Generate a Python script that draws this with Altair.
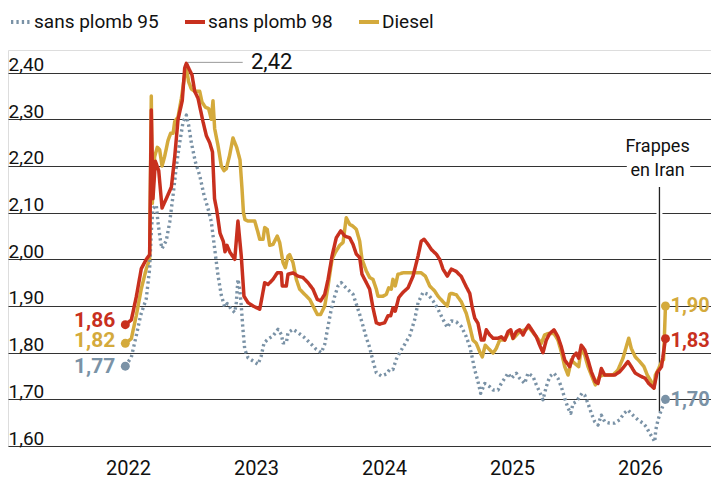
import altair as alt
import pandas as pd

SERIES = ["sans plomb 95", "sans plomb 98", "Diesel"]
COLORS = ["#7a92a6", "#c8301e", "#d4aa3c"]

YEAR_TICKS = [2022, 2023, 2024, 2025, 2026]
PRICE_TICKS = [1.6, 1.7, 1.8, 1.9, 2.0, 2.1, 2.2, 2.3, 2.4]

STRIKE_T = 2026.152
STRIKE_LABEL = ["Frappes", "en Iran"]

# (decimal year, EUR/litre)
sp95 = [(2021.979,1.771),(2022.026,1.79),(2022.065,1.837),(2022.099,1.88),(2022.143,1.916),(2022.169,1.98),
(2022.182,2.059),(2022.195,2.109),(2022.221,2.116),(2022.234,2.08),(2022.255,2.037),(2022.266,2.023),
(2022.299,2.04),(2022.326,2.08),(2022.352,2.137),(2022.378,2.20),(2022.404,2.25),(2022.430,2.294),
(2022.456,2.309),(2022.474,2.287),(2022.495,2.25),(2022.526,2.209),(2022.560,2.18),(2022.594,2.137),
(2022.625,2.109),(2022.651,2.08),(2022.677,2.023),(2022.703,1.966),(2022.729,1.923),(2022.755,1.898),
(2022.776,1.905),(2022.807,1.893),(2022.834,1.886),(2022.846,1.907),(2022.859,1.957),(2022.873,1.936),
(2022.885,1.90),(2022.898,1.85),(2022.912,1.807),(2022.938,1.789),(2022.977,1.782),(2023.016,1.775),
(2023.041,1.793),(2023.063,1.821),(2023.094,1.829),(2023.133,1.836),(2023.172,1.85),(2023.198,1.839),
(2023.211,1.821),(2023.237,1.821),(2023.250,1.843),(2023.289,1.85),(2023.328,1.843),(2023.380,1.832),
(2023.432,1.818),(2023.471,1.807),(2023.510,1.80),(2023.537,1.818),(2023.563,1.857),(2023.588,1.893),
(2023.615,1.921),(2023.641,1.943),(2023.666,1.95),(2023.688,1.943),(2023.758,1.925),(2023.784,1.904),
(2023.810,1.882),(2023.836,1.857),(2023.862,1.832),(2023.888,1.811),(2023.914,1.782),(2023.940,1.757),
(2023.979,1.75),(2024.018,1.754),(2024.045,1.764),(2024.070,1.764),(2024.096,1.786),(2024.123,1.80),
(2024.162,1.818),(2024.201,1.836),(2024.240,1.871),(2024.266,1.907),(2024.305,1.929),(2024.344,1.925),
(2024.383,1.911),(2024.422,1.893),(2024.461,1.871),(2024.495,1.854),(2024.526,1.868),(2024.565,1.866),
(2024.604,1.856),(2024.643,1.834),(2024.670,1.813),(2024.688,1.791),(2024.709,1.763),(2024.734,1.738),
(2024.755,1.713),(2024.787,1.734),(2024.826,1.727),(2024.852,1.72),(2024.891,1.72),(2024.916,1.734),
(2024.943,1.745),(2024.969,1.756),(2024.995,1.745),(2025.034,1.756),(2025.060,1.745),(2025.099,1.734),
(2025.125,1.756),(2025.164,1.749),(2025.190,1.731),(2025.216,1.716),(2025.242,1.699),(2025.268,1.727),
(2025.295,1.749),(2025.328,1.756),(2025.359,1.745),(2025.385,1.727),(2025.412,1.702),(2025.438,1.681),
(2025.459,1.67),(2025.477,1.691),(2025.502,1.695),(2025.529,1.706),(2025.547,1.713),(2025.568,1.709),
(2025.594,1.691),(2025.620,1.67),(2025.646,1.652),(2025.672,1.645),(2025.698,1.666),(2025.724,1.652),
(2025.763,1.649),(2025.802,1.649),(2025.841,1.656),(2025.875,1.67),(2025.906,1.677),(2025.945,1.666),
(2025.984,1.656),(2026.023,1.649),(2026.049,1.641),(2026.076,1.627),(2026.102,1.616),(2026.115,1.609),
(2026.123,1.634),(2026.141,1.656),(2026.166,1.677),(2026.199,1.70)]

sp98 = [(2021.979,1.86),(2022.026,1.87),(2022.065,1.92),(2022.104,1.98),(2022.143,2.00),(2022.169,2.01),
(2022.182,2.32),(2022.195,2.13),(2022.214,2.21),(2022.240,2.19),(2022.266,2.11),(2022.299,2.13),
(2022.339,2.155),(2022.365,2.22),(2022.391,2.30),(2022.424,2.34),(2022.443,2.41),(2022.456,2.42),
(2022.482,2.405),(2022.500,2.395),(2022.521,2.36),(2022.547,2.345),(2022.586,2.295),(2022.612,2.265),
(2022.638,2.25),(2022.660,2.23),(2022.676,2.13),(2022.693,2.106),(2022.719,2.056),(2022.745,2.038),
(2022.758,2.016),(2022.773,2.03),(2022.797,2.015),(2022.834,2.00),(2022.859,2.082),(2022.885,2.007),
(2022.906,1.921),(2022.938,1.907),(2022.977,1.90),(2023.029,1.893),(2023.041,1.91),(2023.068,1.95),
(2023.094,1.946),(2023.133,1.957),(2023.166,1.971),(2023.198,1.971),(2023.205,1.943),(2023.237,1.943),
(2023.250,1.968),(2023.289,1.971),(2023.328,1.964),(2023.367,1.961),(2023.406,1.95),(2023.445,1.936),
(2023.479,1.914),(2023.505,1.911),(2023.537,1.925),(2023.563,1.957),(2023.594,2.007),(2023.627,2.046),
(2023.662,2.061),(2023.693,2.05),(2023.732,2.046),(2023.758,2.032),(2023.784,2.011),(2023.810,2.004),
(2023.828,1.968),(2023.862,1.95),(2023.888,1.936),(2023.914,1.896),(2023.940,1.864),(2023.966,1.861),
(2024.005,1.864),(2024.031,1.879),(2024.052,1.879),(2024.070,1.896),(2024.088,1.889),(2024.115,1.918),
(2024.148,1.929),(2024.188,1.939),(2024.227,1.964),(2024.266,2.007),(2024.291,2.039),(2024.313,2.043),
(2024.344,2.032),(2024.370,2.021),(2024.409,2.011),(2024.435,2.00),(2024.461,1.979),(2024.495,1.964),
(2024.526,1.979),(2024.565,1.974),(2024.604,1.963),(2024.643,1.941),(2024.670,1.927),(2024.688,1.899),
(2024.709,1.874),(2024.734,1.863),(2024.760,1.827),(2024.781,1.827),(2024.799,1.849),(2024.826,1.838),
(2024.852,1.831),(2024.891,1.831),(2024.916,1.834),(2024.943,1.827),(2024.969,1.845),(2024.990,1.849),
(2025.008,1.831),(2025.034,1.845),(2025.060,1.849),(2025.086,1.838),(2025.112,1.852),(2025.130,1.859),
(2025.164,1.845),(2025.190,1.834),(2025.216,1.816),(2025.242,1.80),(2025.268,1.827),(2025.295,1.841),
(2025.328,1.849),(2025.359,1.834),(2025.385,1.813),(2025.412,1.784),(2025.451,1.77),(2025.477,1.791),
(2025.502,1.799),(2025.521,1.788),(2025.541,1.816),(2025.568,1.806),(2025.594,1.784),(2025.620,1.759),
(2025.651,1.738),(2025.672,1.734),(2025.698,1.766),(2025.724,1.752),(2025.763,1.752),(2025.802,1.752),
(2025.841,1.759),(2025.875,1.77),(2025.906,1.781),(2025.932,1.77),(2025.963,1.756),(2026.010,1.749),
(2026.041,1.745),(2026.068,1.734),(2026.109,1.724),(2026.133,1.757),(2026.168,1.77),(2026.199,1.83)]

diesel = [(2021.979,1.82),(2022.026,1.83),(2022.065,1.88),(2022.104,1.937),(2022.143,1.98),(2022.169,2.00),
(2022.182,2.35),(2022.190,2.12),(2022.208,2.22),(2022.229,2.24),(2022.247,2.235),(2022.266,2.20),
(2022.286,2.22),(2022.313,2.255),(2022.333,2.27),(2022.352,2.27),(2022.365,2.295),(2022.391,2.305),
(2022.417,2.345),(2022.443,2.395),(2022.456,2.41),(2022.474,2.38),(2022.495,2.365),(2022.521,2.36),
(2022.560,2.36),(2022.578,2.337),(2022.604,2.326),(2022.630,2.323),(2022.651,2.30),(2022.664,2.34),
(2022.677,2.28),(2022.703,2.244),(2022.729,2.20),(2022.750,2.19),(2022.768,2.194),(2022.794,2.223),
(2022.820,2.26),(2022.849,2.24),(2022.875,2.213),(2022.891,2.15),(2022.902,2.10),(2022.914,2.085),
(2022.938,2.082),(2022.990,2.082),(2023.016,2.057),(2023.029,2.043),(2023.055,2.043),(2023.068,2.068),
(2023.088,2.064),(2023.107,2.03),(2023.133,2.032),(2023.166,2.05),(2023.185,2.036),(2023.211,1.993),
(2023.229,1.982),(2023.250,2.007),(2023.263,2.01),(2023.289,1.993),(2023.315,1.957),(2023.341,1.936),
(2023.380,1.925),(2023.420,1.914),(2023.453,1.896),(2023.479,1.882),(2023.505,1.882),(2023.537,1.90),
(2023.563,1.943),(2023.594,2.00),(2023.620,2.015),(2023.654,2.03),(2023.680,2.036),(2023.705,2.089),
(2023.732,2.075),(2023.758,2.071),(2023.784,2.064),(2023.810,2.039),(2023.828,2.00),(2023.862,1.975),
(2023.888,1.961),(2023.914,1.957),(2023.940,1.936),(2023.953,1.921),(2023.992,1.921),(2024.018,1.925),
(2024.037,1.939),(2024.057,1.936),(2024.070,1.957),(2024.088,1.943),(2024.109,1.968),(2024.148,1.971),
(2024.213,1.971),(2024.291,1.971),(2024.323,1.964),(2024.357,1.943),(2024.396,1.932),(2024.422,1.921),
(2024.461,1.909),(2024.495,1.90),(2024.513,1.925),(2024.526,1.927),(2024.565,1.924),(2024.604,1.909),
(2024.643,1.884),(2024.670,1.856),(2024.695,1.827),(2024.721,1.82),(2024.748,1.802),(2024.768,1.791),
(2024.791,1.816),(2024.826,1.806),(2024.852,1.799),(2024.877,1.809),(2024.904,1.827),(2024.943,1.827),
(2024.969,1.84),(2024.990,1.845),(2025.008,1.83),(2025.060,1.845),(2025.112,1.85),(2025.130,1.855),
(2025.164,1.843),(2025.190,1.834),(2025.229,1.82),(2025.255,1.838),(2025.281,1.841),(2025.328,1.841),
(2025.359,1.827),(2025.385,1.802),(2025.412,1.77),(2025.438,1.752),(2025.463,1.784),(2025.490,1.777),
(2025.521,1.77),(2025.541,1.809),(2025.568,1.795),(2025.594,1.77),(2025.620,1.752),(2025.651,1.731),
(2025.685,1.749),(2025.711,1.752),(2025.789,1.752),(2025.828,1.763),(2025.867,1.788),(2025.893,1.813),
(2025.912,1.831),(2025.932,1.809),(2025.963,1.791),(2025.998,1.781),(2026.031,1.77),(2026.057,1.752),
(2026.088,1.738),(2026.109,1.724),(2026.120,1.752),(2026.141,1.763),(2026.168,1.78),(2026.184,1.785),
(2026.199,1.90)]


def fmt(v):
    return f"{v:.2f}".replace(".", ",")


rows, starts, ends = [], [], []
for name, pts in zip(SERIES, [sp95, sp98, diesel]):
    for t, v in pts:
        rows.append({"t": t, "v": v, "series": name})
    starts.append({"t": pts[0][0], "v": pts[0][1], "series": name, "label": fmt(pts[0][1])})
    ends.append({"t": pts[-1][0], "v": pts[-1][1], "series": name, "label": fmt(pts[-1][1])})
df = pd.DataFrame(rows)
df_start = pd.DataFrame(starts)
df_end = pd.DataFrame(ends)

peak_t, peak_v = max(sp98, key=lambda p: p[1])
df_peak_rule = pd.DataFrame([{"t": peak_t + 0.01, "t2": peak_t + 0.44, "v": peak_v + 0.002}])
df_peak_text = pd.DataFrame([{"t": peak_t + 0.505, "v": peak_v + 0.003, "label": fmt(peak_v)}])

df_strike_rule = pd.DataFrame([{"t": STRIKE_T, "v": 1.673, "v2": 2.155}])
df_strike_text = pd.DataFrame([
    {"t": STRIKE_T - 0.015, "v": 2.229, "label": STRIKE_LABEL[0]},
    {"t": STRIKE_T - 0.015, "v": 2.178, "label": STRIKE_LABEL[1]},
])
df_strike_mask = pd.DataFrame([{"t": STRIKE_T - 0.255, "t2": STRIKE_T + 0.24, "v": 2.19, "v2": 2.212}])

FONT = "Roboto"
W = 703
x_scale = alt.Scale(domain=[2021.0625, 2021.0625 + W / 128], nice=False, zero=False)
y_scale = alt.Scale(domain=[1.60, 2.4485], nice=False, zero=False)
color_scale = alt.Scale(domain=SERIES, range=COLORS)

x_axis = alt.Axis(values=YEAR_TICKS, format="d", title=None, domain=False, ticks=False, grid=False,
                  labelFontSize=20, labelFont=FONT, labelColor="#111", labelBaseline="alphabetic",
                  labelPadding=28, labelFlush=False, labelAlign="center")
y_axis = alt.Axis(values=PRICE_TICKS, labelExpr="replace(format(datum.value, '.2f'), '.', ',')",
                  title=None, domain=False, ticks=False, tickSize=0, grid=True, gridColor="#333",
                  gridWidth=1, labelAlign="left", labelBaseline="alphabetic", labelPadding=0,
                  labelOffset=-2, labelFontSize=19, labelFont=FONT, labelColor="#111", labelFlush=False)

x_enc = alt.X("t:Q", scale=x_scale, axis=x_axis)
y_enc = alt.Y("v:Q", scale=y_scale, axis=y_axis)

LEGEND_BASE = dict(orient="none", legendX=1, legendY=-40, direction="horizontal", title=None,
                   symbolType="stroke", symbolSize=400, symbolStrokeWidth=4, labelFontSize=19,
                   labelFont=FONT, labelColor="#111", columnPadding=18, labelOffset=1, padding=0)

START_DY = {"sans plomb 95": 1, "sans plomb 98": -4, "Diesel": -2}
END_DY = {"sans plomb 95": 1, "sans plomb 98": 2, "Diesel": 0}


def build(legend_extra, dots_dash, dots_cap):
    legend = alt.Legend(**LEGEND_BASE, **legend_extra)
    dash_scale = alt.Scale(domain=SERIES, range=[dots_dash, [1, 0], [1, 0]])
    no_leg = alt.Color("series:N", scale=color_scale, legend=None)

    def line_layer(name):
        dotted = name == "sans plomb 95"
        return alt.Chart(df).transform_filter(alt.datum.series == name).mark_line(
            strokeWidth=3.4 if dotted else 3.5, strokeCap=dots_cap if dotted else "butt",
            strokeJoin="round"
        ).encode(
            x=x_enc, y=y_enc,
            color=alt.Color("series:N", scale=color_scale, legend=legend),
            strokeDash=alt.StrokeDash("series:N", scale=dash_scale, legend=legend),
        )

    def label_layer(data, name, align, dx, dy, size):
        return alt.Chart(data).transform_filter(alt.datum.series == name).mark_text(
            font=FONT, fontSize=size, fontWeight="bold", align=align, baseline="middle", dx=dx, dy=dy
        ).encode(x=x_enc, y=y_enc, text="label:N", color=no_leg)

    mask = alt.Chart(df_strike_mask).mark_rect(color="white").encode(
        x=x_enc, x2="t2:Q", y=y_enc, y2="v2:Q")
    strike_halo = alt.Chart(df_strike_rule).mark_rule(color="white", strokeWidth=6).encode(
        x=x_enc, y=y_enc, y2="v2:Q")
    strike_rule = alt.Chart(df_strike_rule).mark_rule(color="#222", strokeWidth=1.3).encode(
        x=x_enc, y=y_enc, y2="v2:Q")
    strike_text = alt.Chart(df_strike_text).mark_text(
        font=FONT, fontSize=18, color="#111", align="center", baseline="alphabetic"
    ).encode(x=x_enc, y=y_enc, text="label:N")

    dots_start = alt.Chart(df_start).mark_circle(size=80, opacity=1).encode(x=x_enc, y=y_enc, color=no_leg)
    dots_end = alt.Chart(df_end).mark_circle(size=80, opacity=1).encode(x=x_enc, y=y_enc, color=no_leg)
    labels = [label_layer(df_start, s, "right", -10, START_DY[s], 21) for s in SERIES] + \
             [label_layer(df_end, s, "left", 5, END_DY[s], 20) for s in SERIES]

    peak_rule = alt.Chart(df_peak_rule).mark_rule(color="#999", strokeWidth=1).encode(
        x=x_enc, x2="t2:Q", y=y_enc)
    peak_text = alt.Chart(df_peak_text).mark_text(
        font=FONT, fontSize=22, color="#111", align="left", baseline="middle"
    ).encode(x=x_enc, y=y_enc, text="label:N")

    return alt.layer(
        mask, strike_halo, strike_rule, strike_text,
        line_layer("Diesel"), line_layer("sans plomb 95"), line_layer("sans plomb 98"),
        dots_start, dots_end, *labels, peak_rule, peak_text,
    ).properties(
        width=W, height=396,
        autosize=alt.AutoSizeParams(type="none"),
        padding={"left": 0, "right": 0, "top": 42, "bottom": 33},
    ).configure_view(stroke=None).configure(font=FONT)


round_caps = {"symbols": {"update": {"strokeCap": {"value": "round"}}}}
chart = None
for extra in ({"encoding": round_caps}, {"encode": round_caps}):
    try:
        candidate = build(extra, [0.1, 5.4], "round")
        candidate.to_dict()
        chart = candidate
        break
    except Exception:
        chart = None
if chart is None:
    chart = build({}, [2.3, 3.1], "butt")

chart.save("out.html", embed_options={"renderer": "svg", "actions": False})
